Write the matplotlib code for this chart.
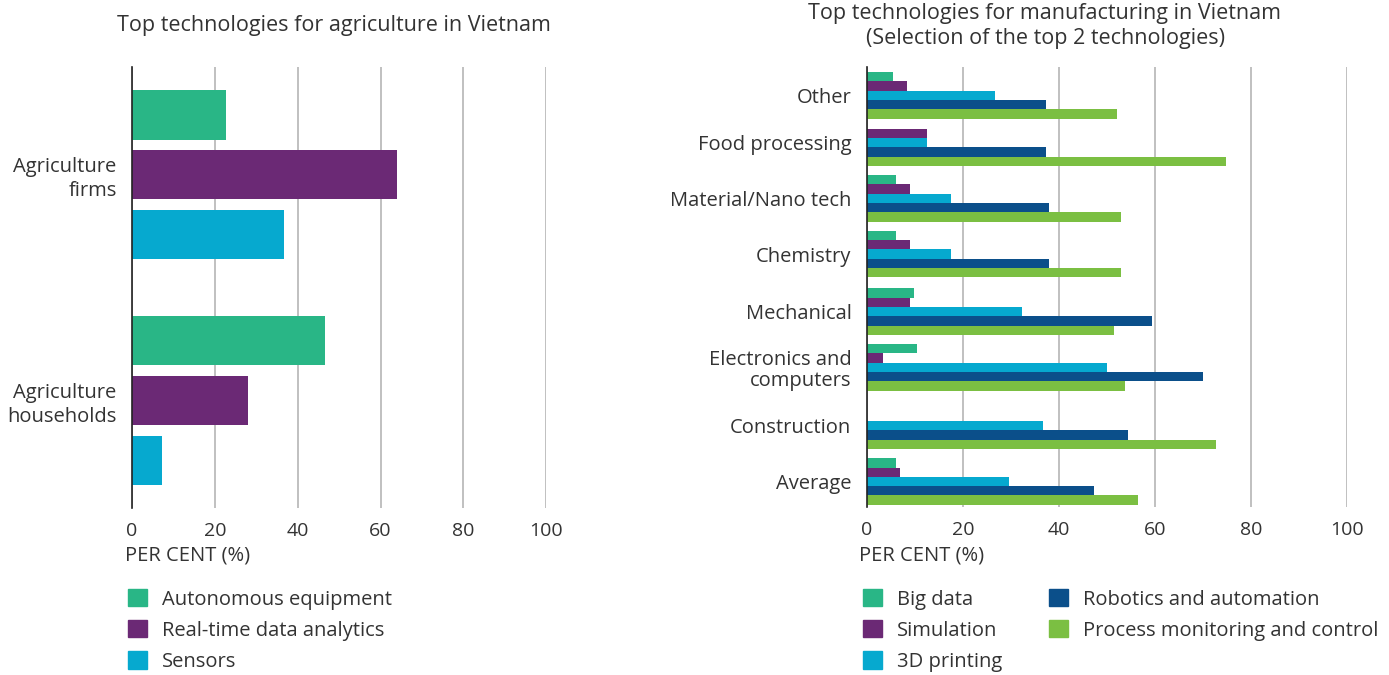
import numpy as np
import matplotlib
matplotlib.use("Agg")
import matplotlib.pyplot as plt
from matplotlib.patches import Patch

plt.rcParams['font.family'] = ['Open Sans', 'DejaVu Sans']
plt.rcParams['text.color'] = '#333333'

# Agriculture data (per cent)
agri_groups = ['Agriculture\nfirms', 'Agriculture\nhouseholds']
agri_techs = ['Autonomous equipment', 'Real-time data analytics', 'Sensors']
agri_values = [
    [22.6, 63.9, 36.6],   # firms
    [46.5, 27.9, 7.3],    # households
]

# Manufacturing data (per cent)
manu_sectors = ['Other', 'Food processing', 'Material/Nano tech', 'Chemistry',
                'Mechanical', 'Electronics and\ncomputers', 'Construction', 'Average']
manu_techs = ['Big data', 'Simulation', '3D printing',
              'Robotics and automation', 'Process monitoring and control']
big_data = [5.5, 0, 6.2, 6.2, 9.8, 10.5, 0, 6.2]
simulation = [8.3, 12.6, 9.0, 9.0, 9.0, 3.3, 0, 6.9]
printing_3d = [26.7, 12.5, 17.5, 17.5, 32.4, 50.1, 36.7, 29.6]
robotics = [37.4, 37.4, 38.0, 38.0, 59.4, 70.0, 54.4, 47.3]
process_ctrl = [52.2, 74.9, 52.9, 52.9, 51.5, 53.7, 72.8, 56.5]

agri_colors = ['#29b686', '#6b2975', '#06a9cf']
manu_colors = ['#29b686', '#6b2975', '#06a9cf', '#0b4f8a', '#7bbf42']

FS = 14.5
TICK_FS = 14
TITLE_FS = 15.5
grid_color = '#b5b5b5'
W, H = 1389, 675

fig = plt.figure(figsize=(13.89, 6.75), dpi=100)


def style_axis(ax):
    ax.set_xlim(0, 100)
    ax.set_xticks([0, 20, 40, 60, 80, 100])
    ax.grid(axis='x', color=grid_color, linewidth=1.2)
    ax.set_axisbelow(True)
    for s in ['top', 'right', 'bottom']:
        ax.spines[s].set_visible(False)
    ax.spines['left'].set_color('#222222')
    ax.spines['left'].set_linewidth(1.2)
    ax.tick_params(axis='both', length=0, colors='#333333')
    ax.tick_params(axis='x', pad=10, labelsize=TICK_FS)
    ax.tick_params(axis='y', pad=11, labelsize=FS)


# --- Left panel: agriculture ---
ax1 = fig.add_axes([132 / W, 1 - 508 / H, (546.3 - 132) / W, (508 - 67) / H])
group_offset = [0, 3.77]
bar_h = 0.82
for j, tech in enumerate(agri_techs):
    ys = [group_offset[g] + j for g in range(len(agri_groups))]
    vals = [agri_values[g][j] for g in range(len(agri_groups))]
    ax1.barh(ys, vals, height=bar_h, color=agri_colors[j])
ax1.set_yticks([g + 1 for g in group_offset])
ax1.set_yticklabels(agri_groups, ha='right', linespacing=1.25)
ax1.set_ylim(6.56, -0.8)
style_axis(ax1)

# --- Right panel: manufacturing ---
ax2 = fig.add_axes([866.7 / W, 1 - 507 / H, (1347 - 866.7) / W, (507 - 67) / H])
series = [big_data, simulation, printing_3d, robotics, process_ctrl]
group_start = np.array([0, 5.1, 11.1, 17.1, 23.3, 29.3, 35.6, 41.6])
for j, vals in enumerate(series):
    ax2.barh(group_start + j, vals, height=1.0, color=manu_colors[j])
ax2.set_yticks(group_start + 2)
ax2.set_yticklabels(manu_sectors, ha='right', linespacing=1.05)
ax2.set_ylim(46.35, -1.05)
style_axis(ax2)

# Titles and axis captions
fig.text(334 / W, 1 - 25 / H, 'Top technologies for agriculture in Vietnam',
         ha='center', va='center', fontsize=TITLE_FS)
fig.text(1045 / W, 1 - 26 / H,
         'Top technologies for manufacturing in Vietnam\n(Selection of the top 2 technologies)',
         ha='center', va='center', fontsize=TITLE_FS, linespacing=1.3)
fig.text(125 / W, 1 - 555 / H, 'PER CENT (%)', ha='left', va='center', fontsize=FS)
fig.text(859 / W, 1 - 555 / H, 'PER CENT (%)', ha='left', va='center', fontsize=FS)

# Legends
leg_kw = dict(frameon=False, fontsize=FS, handlelength=0.95, handleheight=0.95,
              handletextpad=0.75, labelspacing=0.52, borderpad=0, borderaxespad=0,
              loc='upper left')
fig.legend([Patch(color=c) for c in agri_colors], agri_techs,
           bbox_to_anchor=(128 / W, 1 - 589 / H), **leg_kw)
fig.legend([Patch(color=c) for c in manu_colors], manu_techs, ncol=2,
           columnspacing=2.3, bbox_to_anchor=(863 / W, 1 - 589 / H), **leg_kw)

fig.savefig('out.png', dpi=100, facecolor='white')
